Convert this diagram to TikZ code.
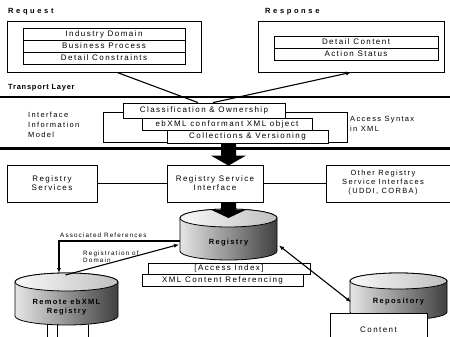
\documentclass[tikz,border=0pt]{standalone}
\usepackage{fontspec}
\setmainfont{Liberation Sans}[LetterSpace=18]
\usetikzlibrary{calc,arrows.meta}
\tikzset{
  body/.style={font=\fontsize{8}{9}\selectfont},
  small/.style={font=\fontsize{6.3}{6.8}\selectfont, inner sep=0pt},
  tl/.style={font=\bfseries\fontsize{7.5}{9}\selectfont\addfontfeature{LetterSpace=10}, anchor=west, inner sep=0pt},
  tlw/.style={tl, font=\bfseries\fontsize{7.5}{9}\selectfont\addfontfeature{LetterSpace=35}},
  bx/.style={draw, line width=0.8pt, fill=white, inner sep=0pt, body},
  row/.style={bx, minimum height=12},
  bigbox/.style={bx, minimum height=37, align=center, font=\fontsize{8}{9}\selectfont},
  ghost/.style={inner sep=0pt, outer sep=0pt},
  conn/.style={line width=1.1pt},
  arr/.style={conn, -{Latex[length=5pt,width=4pt]}},
  arrs/.style={conn, {Latex[length=5pt,width=4pt]}-{Latex[length=5pt,width=4pt]}},
  rail/.style={line width=2.2pt},
  cyl/.style={draw, line width=0.8pt, left color=gray!20, right color=black!75},
  cyltop/.style={draw, line width=0.8pt, left color=gray!5, right color=gray!50},
  cyllabel/.style={font=\bfseries\fontsize{7.5}{9}\selectfont, inner sep=0pt, align=center},
}
\begin{document}
\begin{tikzpicture}[x=1pt,y=-1pt]
\useasboundingbox (0,0) rectangle (450,337);

% ---------- Request / Response ----------
\node[tlw] (lreq) at (8,12) {Request};
\node[tlw] (lresp) at (265,12) {Response};
\node[bx, minimum width=194, minimum height=51] (req) at (104,46.5) {};
\node[row, minimum width=162] (ind) at (104,34) {Industry Domain};
\node[row, minimum width=162] (bus) at (104,46) {Business Process};
\node[row, minimum width=162] (det) at (104,58) {Detail Constraints};
\node[bx, minimum width=186, minimum height=51] (resp) at (351,46.5) {};
\node[row, minimum width=164] (dcon) at (356,42) {Detail Content};
\node[row, minimum width=164] (act) at (356,54) {Action Status};

% ---------- Transport layer ----------
\node[tl] (ltr) at (8,88) {Transport Layer};
\draw[rail] (0,97) -- (450,97);
\draw[rail] (0,148.5) -- (450,148.5);

% ---------- Interface information model ----------
\node[draw, line width=0.8pt, minimum width=244, minimum height=30, inner sep=0pt] (iim) at (225,127) {};
\node[bx, minimum width=162, minimum height=15] (cls) at (204,110.5) {Classification \& Ownership};
\node[bx, minimum width=170, minimum height=12] (ebx) at (227,124) {ebXML conformant XML object};
\node[bx, minimum width=161, minimum height=13] (coll) at (247.5,136.5) {Collections \& Versioning};
\node[anchor=west, align=left, inner sep=0pt, font=\fontsize{7.5}{10}\selectfont] (liim) at (28,125) {Interface\\Information\\Model};
\node[anchor=west, align=left, inner sep=0pt, font=\fontsize{7.5}{10}\selectfont] (lacc) at (350,124) {Access Syntax\\in XML};

\draw[conn] ($(req.south)+(13,0)$) -- ($(cls.north)+(-6,0)$);
\draw[arr] ($(cls.north)+(9,0)$) -- (resp.south);

% ---------- Registry service row ----------
\node[bigbox, minimum width=90] (rs) at (52,183.5) {Registry\\Services};
\node[bigbox, minimum width=96] (rsi) at (215,183.5) {Registry Service\\Interface};
\node[bigbox, minimum width=126] (oth) at (389,183.5) {};
\node[align=center, inner sep=0pt, font=\fontsize{7.5}{8.8}\selectfont] (loth) at (383,182.5) {Other Registry\\Service Interfaces\\(UDDI, CORBA)};
\draw[conn] (rs.east) -- (rsi.west);
\draw[conn] (rsi.east) -- (oth.west);

% ---------- Registry cylinder ----------
\node[ghost, minimum width=97, minimum height=51] (reg) at (228.5,234.5) {};
\shade[cyl] (180,218) -- (180,251) arc[start angle=180,end angle=0,x radius=48.5,y radius=9]
  -- (277,218) arc[start angle=360,end angle=180,x radius=48.5,y radius=9] -- cycle;
\draw[cyltop] (228.5,218) ellipse[x radius=48.5,y radius=9];
\node[cyllabel] (lreg) at (228.5,243) {Registry};

\node[bx, minimum width=162, minimum height=11] (acc) at (229,268.5) {[Access Index]};
\node[bx, minimum width=161, minimum height=12] (xmlc) at (222.5,280) {XML Content Referencing};

% block arrows
\coordinate (a1s) at (coll.south -| reg.north);
\coordinate (a1t) at (rsi.north -| reg.north);
\coordinate (a2s) at (rsi.south -| reg.north);
\coordinate (a2t) at ($(reg.north)+(0,9)$);
\fill ($(a1s)+(-7.5,0)$) -- ($(a1t)+(-7.5,-9)$) -- ($(a1t)+(-17.5,-9)$) -- ($(a1t)+(0,1)$)
  -- ($(a1t)+(17.5,-9)$) -- ($(a1t)+(7.5,-9)$) -- ($(a1s)+(7.5,0)$) -- cycle;
\fill ($(a2s)+(-7.5,0)$) -- ($(a2t)+(-7.5,-8)$) -- ($(a2t)+(-17,-8)$) -- (a2t)
  -- ($(a2t)+(17,-8)$) -- ($(a2t)+(7.5,-8)$) -- ($(a2s)+(7.5,0)$) -- cycle;

% ---------- Remote ebXML registry ----------
\node[ghost, minimum width=103, minimum height=52] (remote) at (66.5,299) {};
\shade[cyl] (15,282) -- (15,316) arc[start angle=180,end angle=0,x radius=51.5,y radius=9]
  -- (118,282) arc[start angle=360,end angle=180,x radius=51.5,y radius=9] -- cycle;
\draw[cyltop] (66.5,282) ellipse[x radius=51.5,y radius=9];
\node[cyllabel] (lremote) at (66.5,307) {Remote ebXML\\Registry};
\draw[line width=0.8pt] (47,324.3) -- (47,340);
\draw[line width=0.8pt] (57,325) -- (57,340);
\draw[line width=0.8pt] (88,324.5) -- (88,340);

% ---------- Repository ----------
\node[ghost, minimum width=97, minimum height=47] (repo) at (398.5,296.5) {};
\shade[cyl] (350,281) -- (350,312) arc[start angle=180,end angle=0,x radius=48.5,y radius=8]
  -- (447,281) arc[start angle=360,end angle=180,x radius=48.5,y radius=8] -- cycle;
\draw[cyltop] (398.5,281) ellipse[x radius=48.5,y radius=8];
\node[cyllabel] (lrepo) at (398.5,302) {Repository};
\node[bx, minimum width=97, minimum height=32, anchor=north] (cnt) at (378.5,313) {Content};

% ---------- connectors among registries ----------
\draw[arr] ($(reg.west)+(0,6.5)$) -| ($(remote.north)+(-7.5,0)$);
\node[small, anchor=west] (lassoc) at (60,235) {Associated References};
\draw[arr] ($(remote.north)+(-1,2)$) -- ($(reg.west)+(-1,10)$);
\node[small, anchor=west, align=left] (lregd) at (83,256.5) {Registration of\\Domain};
\draw[arrs] ($(reg.east)+(2,11)$) -- ($(repo.west)+(1,5.5)$);
\end{tikzpicture}
\end{document}
